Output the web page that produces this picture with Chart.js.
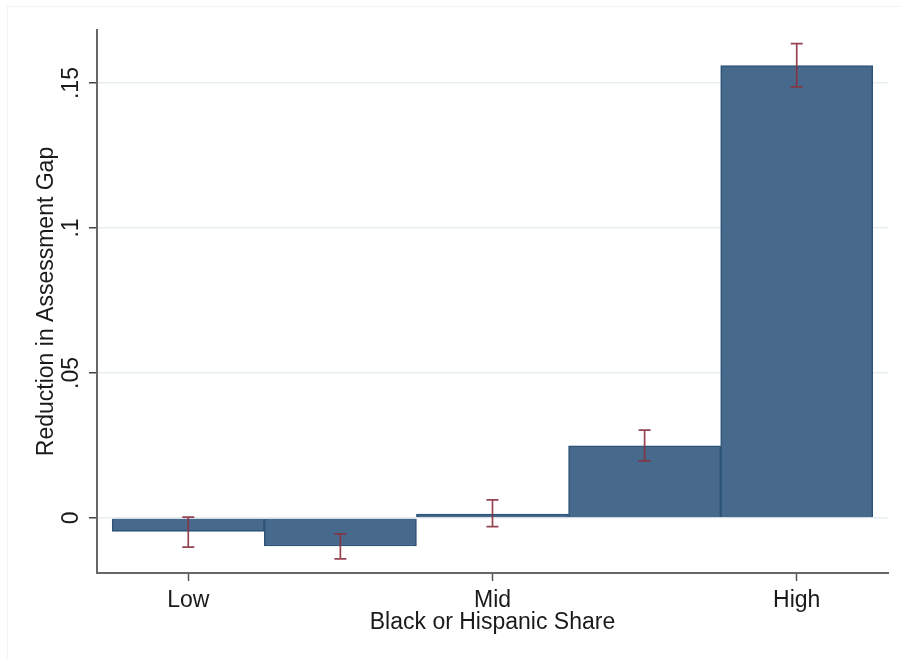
<!DOCTYPE html>
<html>
<head>
<meta charset="utf-8">
<script src="https://cdn.jsdelivr.net/npm/chart.js@4"></script>
<style>
  html, body { margin: 0; padding: 0; background: #ffffff; }
  #wrap { position: relative; width: 901px; height: 658px; }
  #frame { position: absolute; left: 7px; top: 6px; right: 0; bottom: 0;
           border-top: 1px solid #f1f3f3; border-left: 1px solid #f1f3f3; pointer-events: none; }
  canvas { display: block; }
</style>
</head>
<body>
<div id="wrap">
  <canvas id="c" width="901" height="658"></canvas>
  <div id="frame"></div>
</div>
<script>
// ---- data ----
const categories = [1, 2, 3, 4, 5];
const gapReduction = [-0.0047, -0.0097, 0.0013, 0.0249, 0.1560];
const ciLow  = [-0.0101, -0.0141, -0.0030, 0.0197, 0.1487];
const ciHigh = [ 0.0003, -0.0055,  0.0062, 0.0303, 0.1636];
const xTickPositions = [1, 3, 5];
const xTickLabels = ['Low', 'Mid', 'High'];
const yTickValues = [0, 0.05, 0.1, 0.15];
const yTickLabels = ['0', '.05', '.1', '.15'];
const xTitle = 'Black or Hispanic Share';
const yTitle = 'Reduction in Assessment Gap';

const FONT = 'Liberation Sans, Arial, sans-serif';
const FSIZE = 23;

const errorBars = {
  id: 'errorBars',
  afterDatasetsDraw(chart) {
    const {ctx, scales: {x, y}} = chart;
    ctx.save();
    ctx.strokeStyle = 'rgba(138,48,62,0.9)';
    ctx.lineWidth = 1.7;
    const cap = 6;
    categories.forEach((c, i) => {
      const px = x.getPixelForValue(c);
      const pLo = y.getPixelForValue(ciLow[i]);
      const pHi = y.getPixelForValue(ciHigh[i]);
      ctx.beginPath();
      ctx.moveTo(px, pLo); ctx.lineTo(px, pHi);
      ctx.moveTo(px - cap, pLo); ctx.lineTo(px + cap, pLo);
      ctx.moveTo(px - cap, pHi); ctx.lineTo(px + cap, pHi);
      ctx.stroke();
    });
    ctx.restore();
  }
};

const yLabels = {
  id: 'yLabels',
  afterDraw(chart) {
    const {ctx, scales: {y}} = chart;
    ctx.save();
    ctx.font = FSIZE + 'px ' + FONT;
    ctx.fillStyle = '#1a1a1a';
    ctx.textAlign = 'center';
    ctx.textBaseline = 'middle';
    yTickValues.forEach((v, i) => {
      const py = y.getPixelForValue(v);
      ctx.save();
      ctx.translate(72, py);
      ctx.rotate(-Math.PI / 2);
      ctx.fillText(yTickLabels[i], 0, 0);
      ctx.restore();
    });
    ctx.restore();
  }
};

new Chart(document.getElementById('c'), {
  type: 'bar',
  data: {
    datasets: [{
      data: categories.map((c, i) => ({x: c, y: gapReduction[i]})),
      backgroundColor: '#476a8c',
      borderColor: '#2d5379',
      borderWidth: 1.5,
      barPercentage: 1,
      categoryPercentage: 1
    }]
  },
  options: {
    responsive: false,
    devicePixelRatio: 1,
    animation: false,
    layout: { padding: { left: 10, right: 13, top: 30, bottom: 0 } },
    plugins: { legend: { display: false }, tooltip: { enabled: false } },
    scales: {
      x: {
        type: 'linear',
        min: 0.4, max: 5.6,
        offset: false,
        grid: { drawOnChartArea: false, drawTicks: true, tickLength: 8, tickColor: '#555', tickWidth: 1.5, offset: false },
        border: { display: true, color: '#666', width: 2 },
        afterBuildTicks: s => { s.ticks = xTickPositions.map(v => ({value: v})); },
        afterFit: s => { s.height = 85; },
        ticks: {
          autoSkip: false, maxRotation: 0, minRotation: 0, padding: 6,
          color: '#1a1a1a', font: { family: FONT, size: FSIZE },
          callback: v => xTickLabels[xTickPositions.indexOf(v)]
        },
        title: { display: true, text: xTitle, color: '#1a1a1a', font: { family: FONT, size: FSIZE }, padding: { top: 0, bottom: 22 } }
      },
      y: {
        min: -0.019, max: 0.1683,
        grid: { color: '#e7eef2', lineWidth: 1.5, drawTicks: true, tickLength: 8, tickColor: '#444', tickWidth: 1.5 },
        border: { display: true, color: '#666', width: 2 },
        afterBuildTicks: s => { s.ticks = yTickValues.map(v => ({value: v})); },
        afterFit: s => { s.width = 87; },
        ticks: { display: false },
        title: { display: true, text: yTitle, color: '#1a1a1a', font: { family: FONT, size: FSIZE }, padding: { top: 23, bottom: 0 } }
      }
    }
  },
  plugins: [errorBars, yLabels]
});
</script>
</body>
</html>
